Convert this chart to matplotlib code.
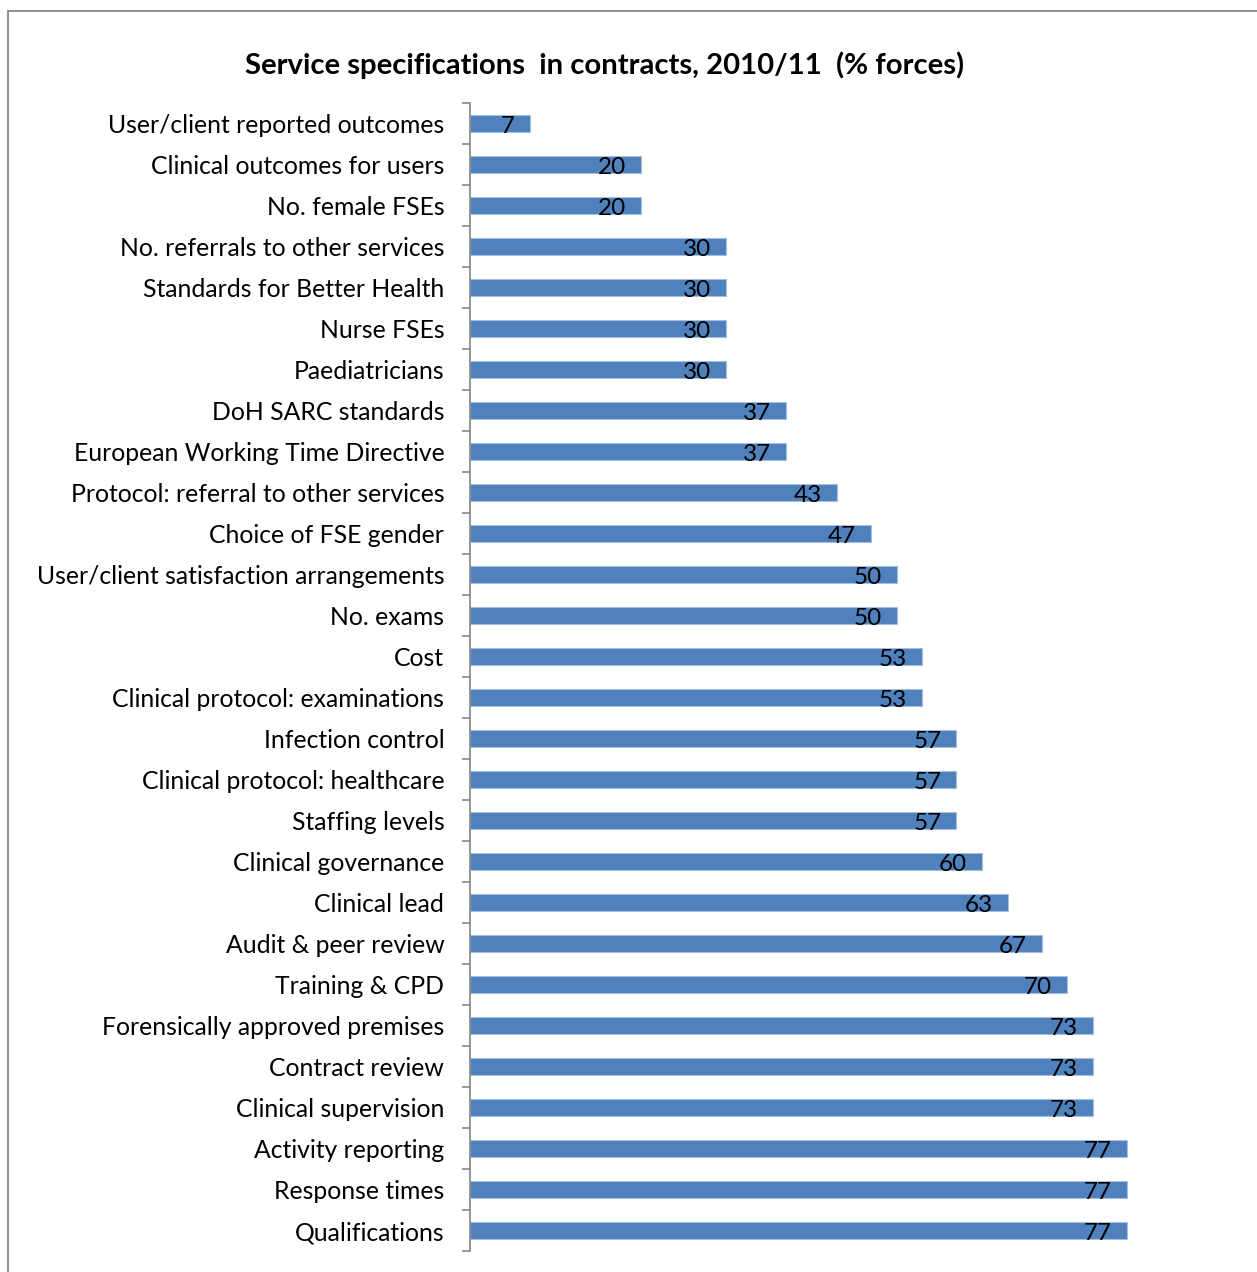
import matplotlib

matplotlib.use("Agg")
import matplotlib.pyplot as plt
import numpy as np
from matplotlib.patches import Rectangle

categories = [
    "User/client reported outcomes",
    "Clinical outcomes for users",
    "No. female FSEs",
    "No. referrals to other services",
    "Standards for Better Health",
    "Nurse FSEs",
    "Paediatricians",
    "DoH SARC standards",
    "European Working Time Directive",
    "Protocol: referral to other services",
    "Choice of FSE gender",
    "User/client satisfaction arrangements",
    "No. exams",
    "Cost",
    "Clinical protocol: examinations",
    "Infection control",
    "Clinical protocol: healthcare",
    "Staffing levels",
    "Clinical governance",
    "Clinical lead",
    "Audit & peer review",
    "Training & CPD",
    "Forensically approved premises",
    "Contract review",
    "Clinical supervision",
    "Activity reporting",
    "Response times",
    "Qualifications",
]
values = [7, 20, 20, 30, 30, 30, 30, 37, 37, 43, 47, 50, 50, 53, 53,
          57, 57, 57, 60, 63, 67, 70, 73, 73, 73, 77, 77, 77]

TITLE = "Service specifications  in contracts, 2010/11  (% forces)"
BAR_COLOR = "#4F81BD"
AXIS_COLOR = "#868686"

plt.rcParams["font.family"] = ["Lato", "DejaVu Sans"]

W, H = 1257, 1272
fig = plt.figure(figsize=(W / 100, H / 100), dpi=100)
ax = fig.add_axes([470 / W, 1 - 1251 / H, (1238 - 470) / W, (1251 - 103) / H])

y = np.arange(len(categories))
bars = ax.barh(y, values, height=0.41, color=BAR_COLOR, edgecolor="#A7BFDE", linewidth=0.8)

for rect, v in zip(bars, values):
    ax.annotate(str(v), xy=(rect.get_width(), rect.get_y() + rect.get_height() / 2),
                xytext=(-15, -3), textcoords="offset pixels",
                ha="right", va="center", fontsize=17.5, color="black")

ax.set_xlim(0, 90)
ax.set_ylim(len(categories) - 0.5, -0.5)
ax.set_yticks(y, categories)
ax.set_yticks(np.arange(len(categories) + 1) - 0.5, minor=True)
ax.tick_params(axis="y", which="major", length=0, pad=18.5, labelsize=17.8)
ax.tick_params(axis="y", which="minor", length=5.8, width=1.2, color=AXIS_COLOR, direction="out")
ax.set_xticks([])
for side in ["top", "right", "bottom"]:
    ax.spines[side].set_visible(False)
ax.spines["left"].set_color(AXIS_COLOR)
ax.spines["left"].set_linewidth(1.2)

fig.text(605 / W, 1 - 65 / H, TITLE, ha="center", va="center",
         fontsize=21.1, fontweight="bold")

# chart area border
fig.patches.append(Rectangle((8 / W, -0.05), 1.1, 1 - 11 / H + 0.05,
                             transform=fig.transFigure, fill=False,
                             edgecolor=AXIS_COLOR, linewidth=1.3))

fig.savefig("out.png", dpi=100)
